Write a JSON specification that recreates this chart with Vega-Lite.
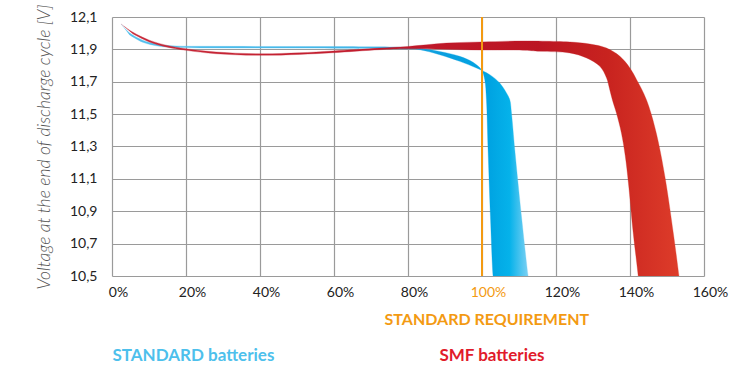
{
  "$schema": "https://vega.github.io/schema/vega-lite/v6.json",
  "autosize": {"type": "none"},
  "padding": {"left": 112, "top": 17, "right": 50, "bottom": 91},
  "width": 592,
  "height": 259,
  "background": "white",
  "config": {
    "view": {"stroke": null},
    "font": "Lato"
  },
  "datasets": {
    "standard": [
      {"i": 1, "pct": 2.44, "v": 12.057},
      {"i": 2, "pct": 4.68, "v": 12.003},
      {"i": 3, "pct": 8.28, "v": 11.957},
      {"i": 4, "pct": 12.8, "v": 11.93},
      {"i": 5, "pct": 17.32, "v": 11.921},
      {"i": 6, "pct": 26.33, "v": 11.919},
      {"i": 7, "pct": 39.86, "v": 11.918},
      {"i": 8, "pct": 59.88, "v": 11.917},
      {"i": 9, "pct": 79.99, "v": 11.912},
      {"i": 10, "pct": 83.15, "v": 11.907},
      {"i": 11, "pct": 88.57, "v": 11.887},
      {"i": 12, "pct": 93.98, "v": 11.857},
      {"i": 13, "pct": 97.58, "v": 11.82},
      {"i": 14, "pct": 99.85, "v": 11.774},
      {"i": 15, "pct": 100.74, "v": 11.713},
      {"i": 16, "pct": 101.2, "v": 11.589},
      {"i": 17, "pct": 101.64, "v": 11.28},
      {"i": 18, "pct": 102.28, "v": 10.868},
      {"i": 19, "pct": 102.99, "v": 10.5},
      {"i": 20, "pct": 103.3, "v": 10.45},
      {"i": 21, "pct": 112.8, "v": 10.45},
      {"i": 22, "pct": 112.46, "v": 10.5},
      {"i": 23, "pct": 110.67, "v": 10.868},
      {"i": 24, "pct": 108.86, "v": 11.28},
      {"i": 25, "pct": 107.97, "v": 11.507},
      {"i": 26, "pct": 107.51, "v": 11.589},
      {"i": 27, "pct": 106.61, "v": 11.631},
      {"i": 28, "pct": 104.8, "v": 11.692},
      {"i": 29, "pct": 102.1, "v": 11.744},
      {"i": 30, "pct": 98.5, "v": 11.785},
      {"i": 31, "pct": 93.98, "v": 11.826},
      {"i": 32, "pct": 88.57, "v": 11.867},
      {"i": 33, "pct": 83.15, "v": 11.898},
      {"i": 34, "pct": 79.99, "v": 11.902},
      {"i": 35, "pct": 59.88, "v": 11.907},
      {"i": 36, "pct": 39.86, "v": 11.908},
      {"i": 37, "pct": 26.33, "v": 11.909},
      {"i": 38, "pct": 17.32, "v": 11.912},
      {"i": 39, "pct": 12.8, "v": 11.919},
      {"i": 40, "pct": 8.28, "v": 11.944},
      {"i": 41, "pct": 4.68, "v": 11.991}
    ],
    "smf": [
      {"i": 1, "pct": 2.44, "v": 12.057},
      {"i": 2, "pct": 5.57, "v": 12.007},
      {"i": 3, "pct": 10.09, "v": 11.957},
      {"i": 4, "pct": 14.61, "v": 11.926},
      {"i": 5, "pct": 20.02, "v": 11.904},
      {"i": 6, "pct": 28.14, "v": 11.884},
      {"i": 7, "pct": 39.86, "v": 11.873},
      {"i": 8, "pct": 50.68, "v": 11.879},
      {"i": 9, "pct": 59.69, "v": 11.89},
      {"i": 10, "pct": 72.33, "v": 11.908},
      {"i": 11, "pct": 79.91, "v": 11.918},
      {"i": 12, "pct": 90.38, "v": 11.939},
      {"i": 13, "pct": 99.93, "v": 11.946},
      {"i": 14, "pct": 111.03, "v": 11.952},
      {"i": 15, "pct": 120.14, "v": 11.949},
      {"i": 16, "pct": 123.74, "v": 11.946},
      {"i": 17, "pct": 129.16, "v": 11.933},
      {"i": 18, "pct": 133.67, "v": 11.908},
      {"i": 19, "pct": 137.27, "v": 11.857},
      {"i": 20, "pct": 139.98, "v": 11.785},
      {"i": 21, "pct": 141.79, "v": 11.713},
      {"i": 22, "pct": 143.09, "v": 11.657},
      {"i": 23, "pct": 144.44, "v": 11.589},
      {"i": 24, "pct": 145.8, "v": 11.496},
      {"i": 25, "pct": 147.64, "v": 11.33},
      {"i": 26, "pct": 149.58, "v": 11.095},
      {"i": 27, "pct": 151.7, "v": 10.766},
      {"i": 28, "pct": 153.24, "v": 10.5},
      {"i": 29, "pct": 153.5, "v": 10.45},
      {"i": 30, "pct": 142.4, "v": 10.45},
      {"i": 31, "pct": 142.22, "v": 10.5},
      {"i": 32, "pct": 140.87, "v": 10.766},
      {"i": 33, "pct": 139.57, "v": 11.075},
      {"i": 34, "pct": 138.71, "v": 11.243},
      {"i": 35, "pct": 137.68, "v": 11.383},
      {"i": 36, "pct": 136.33, "v": 11.507},
      {"i": 37, "pct": 135.22, "v": 11.589},
      {"i": 38, "pct": 134.46, "v": 11.657},
      {"i": 39, "pct": 133.67, "v": 11.723},
      {"i": 40, "pct": 131.86, "v": 11.795},
      {"i": 41, "pct": 128.26, "v": 11.847},
      {"i": 42, "pct": 123.74, "v": 11.878},
      {"i": 43, "pct": 115.62, "v": 11.888},
      {"i": 44, "pct": 111.03, "v": 11.895},
      {"i": 45, "pct": 99.39, "v": 11.896},
      {"i": 46, "pct": 79.91, "v": 11.904},
      {"i": 47, "pct": 72.33, "v": 11.898},
      {"i": 48, "pct": 59.69, "v": 11.879},
      {"i": 49, "pct": 50.68, "v": 11.869},
      {"i": 50, "pct": 39.86, "v": 11.863},
      {"i": 51, "pct": 28.14, "v": 11.873},
      {"i": 52, "pct": 20.02, "v": 11.894},
      {"i": 53, "pct": 14.61, "v": 11.915},
      {"i": 54, "pct": 10.09, "v": 11.946},
      {"i": 55, "pct": 5.57, "v": 11.997}
    ],
    "requirement": [
      {"label": "STANDARD REQUIREMENT", "pct": 101.3, "v": 10.23}
    ],
    "notes": [
      {"label": "STANDARD batteries", "pct": 22.0, "v": 10.008},
      {"label": "SMF batteries", "pct": 102.7, "v": 10.008}
    ]
  },
  "encoding": {
    "x": {
      "field": "pct", "type": "quantitative",
      "scale": {"domain": [0, 160], "nice": false, "zero": false},
      "axis": {
        "title": null,
        "values": [0, 20, 40, 60, 80, 100, 120, 140, 160],
        "labelExpr": "datum.value + '%'",
        "labelFont": "Lato",
        "labelFontSize": 14,
        "labelColor": {"condition": {"test": "datum.value == 100", "value": "#f39a12"}, "value": "#222222"},
        "labelPadding": 9,
        "labelOffset": 6,
        "labelFlush": false,
        "ticks": false,
        "domain": false,
        "grid": true,
        "gridColor": "#9a9a9a",
        "gridWidth": 1.2
      }
    },
    "y": {
      "field": "v", "type": "quantitative",
      "scale": {"domain": [10.5, 12.1], "nice": false, "zero": false},
      "axis": {
        "title": "Voltage at the end of discharge cycle [V]",
        "titleFont": "Lato",
        "titleFontStyle": "italic",
        "titleFontWeight": 300,
        "titleFontSize": 17.5,
        "titleColor": "#555555",
        "titlePadding": 16,
        "values": [10.5, 10.7, 10.9, 11.1, 11.3, 11.5, 11.7, 11.9, 12.1],
        "labelExpr": "replace(format(datum.value, '.1f'), '.', ',')",
        "labelFont": "Lato",
        "labelFontSize": 14,
        "labelColor": "#222222",
        "labelPadding": 15,
        "ticks": false,
        "domain": false,
        "grid": true,
        "gridColor": "#9a9a9a",
        "gridWidth": 1.2
      }
    }
  },
  "layer": [
    {
      "data": {"name": "standard"},
      "mark": {
        "type": "line",
        "interpolate": "catmull-rom",
        "strokeWidth": 0.3,
        "clip": true,
        "fill": {
          "gradient": "linear", "x1": 0, "x2": 1, "y1": 0, "y2": 0,
          "stops": [
            {"offset": 0, "color": "#55c1ee"},
            {"offset": 0.6, "color": "#3fb5e8"},
            {"offset": 0.78, "color": "#0a9fdf"},
            {"offset": 0.9, "color": "#00a3e2"},
            {"offset": 0.95, "color": "#05b2ea"},
            {"offset": 1, "color": "#86d3f4"}
          ]
        },
        "stroke": {
          "gradient": "linear", "x1": 0, "x2": 1, "y1": 0, "y2": 0,
          "stops": [
            {"offset": 0, "color": "#55c1ee"},
            {"offset": 0.6, "color": "#3fb5e8"},
            {"offset": 0.78, "color": "#0a9fdf"},
            {"offset": 0.9, "color": "#00a3e2"},
            {"offset": 0.95, "color": "#05b2ea"},
            {"offset": 1, "color": "#86d3f4"}
          ]
        }
      },
      "encoding": {"order": {"field": "i", "type": "quantitative"}}
    },
    {
      "data": {"name": "smf"},
      "mark": {
        "type": "line",
        "interpolate": "catmull-rom",
        "strokeWidth": 0.3,
        "clip": true,
        "fill": {
          "gradient": "linear", "x1": 0, "x2": 1, "y1": 0, "y2": 0,
          "stops": [
            {"offset": 0, "color": "#c82a3a"},
            {"offset": 0.5, "color": "#c01a2b"},
            {"offset": 0.75, "color": "#bb1522"},
            {"offset": 0.87, "color": "#c8231f"},
            {"offset": 1, "color": "#de3d2a"}
          ]
        },
        "stroke": {
          "gradient": "linear", "x1": 0, "x2": 1, "y1": 0, "y2": 0,
          "stops": [
            {"offset": 0, "color": "#c82a3a"},
            {"offset": 0.5, "color": "#c01a2b"},
            {"offset": 0.75, "color": "#bb1522"},
            {"offset": 0.87, "color": "#c8231f"},
            {"offset": 1, "color": "#de3d2a"}
          ]
        }
      },
      "encoding": {"order": {"field": "i", "type": "quantitative"}}
    },
    {
      "data": {"values": [{"pct": 100}]},
      "mark": {"type": "rule", "color": "#f39a12", "strokeWidth": 2},
      "encoding": {"x": {"field": "pct", "type": "quantitative"}, "y": null}
    },
    {
      "data": {"name": "requirement"},
      "mark": {"type": "text", "font": "Lato", "fontWeight": "bold", "fontSize": 16, "align": "center", "baseline": "middle", "color": "#f39a12"},
      "encoding": {
        "text": {"field": "label"}
      }
    },
    {
      "data": {"name": "notes"},
      "mark": {"type": "text", "font": "Lato", "fontWeight": "bold", "fontSize": 17, "align": "center", "baseline": "middle"},
      "encoding": {
        "text": {"field": "label"},
        "color": {
          "field": "label", "type": "nominal", "legend": null,
          "scale": {
            "domain": ["STANDARD batteries", "SMF batteries"],
            "range": ["#4dc0ec", "#e11b2b"]
          }
        }
      }
    }
  ]
}
